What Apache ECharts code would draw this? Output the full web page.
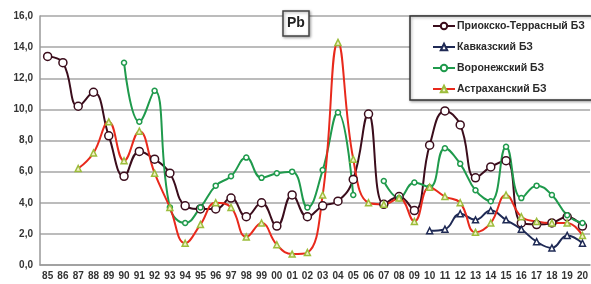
<!DOCTYPE html>
<html>
<head>
<meta charset="utf-8">
<script src="https://cdn.jsdelivr.net/npm/echarts@6/dist/echarts.min.js"></script>
<style>
  html, body { margin: 0; padding: 0; background: #fff; }
  #chart { width: 591px; height: 284px; }
</style>
</head>
<body>
<div id="chart"></div>
<script>
  // годы (подписи оси X)
  var years = ['85','86','87','88','89','90','91','92','93','94','95','96','97','98','99','00','01','02',
               '03','04','05','06','07','08','09','10','11','12','13','14','15','16','17','18','19','20'];
  var yTicks = [0, 2, 4, 6, 8, 10, 12, 14, 16];

  var prioksko = [13.4, 13.0, 10.2, 11.1, 8.3, 5.7, 7.3, 6.8, 5.9, 3.8, 3.6, 3.6, 4.3, 3.1, 4.0, 2.5, 4.5, 3.1,
                  3.8, 4.1, 5.5, 9.7, 3.9, 4.4, 3.5, 7.7, 9.9, 9.0, 5.6, 6.3, 6.7, 2.7, 2.6, 2.7, 3.1, 2.5];
  var kavkaz = [null, null, null, null, null, null, null, null, null, null, null, null, null, null, null, null, null, null,
                null, null, null, null, null, null, null, 2.2, 2.3, 3.3, 2.9, 3.5, 2.9, 2.3, 1.5, 1.1, 1.9, 1.4];
  var voronezh = [null, null, null, null, null, 13.0, 9.2, 11.2, 3.7, 2.7, 3.7, 5.1, 5.7, 6.9, 5.6, 5.9, 6.0, 3.7,
                  6.1, 9.8, 4.5, null, 5.4, 4.3, 5.3, 5.0, 7.5, 6.5, 4.8, 4.1, 7.6, 4.3, 5.1, 4.5, 3.2, 2.7];
  var astrakhan = [null, null, 6.2, 7.2, 9.2, 6.7, 8.6, 5.9, 3.7, 1.4, 2.6, 4.0, 3.7, 1.8, 2.7, 1.3, 0.7, 0.8,
                   4.5, 14.3, 6.8, 4.0, 3.9, 4.3, 2.8, 5.0, 4.4, 4.0, 2.1, 2.7, 4.5, 3.1, 2.8, 2.7, 2.7, 1.9];

  var chart = echarts.init(document.getElementById('chart'));

  function makeSeries(name, data, color, symbol, size, markerBorder, markerFill) {
    return {
      name: name,
      type: 'line',
      data: data,
      smooth: 0.45,
      connectNulls: false,
      symbol: symbol,
      symbolSize: size,
      showAllSymbol: true,
      lineStyle: { color: color, width: 2 },
      itemStyle: { color: markerFill, borderColor: markerBorder, borderWidth: 1.5 },
      emphasis: { disabled: true },
      animation: false
    };
  }

  chart.setOption({
    animation: false,
    title: {
      text: 'Pb',
      left: 283,
      top: 11,
      padding: [5, 4, 5, 4],
      borderColor: '#444',
      borderWidth: 1.5,
      backgroundColor: '#fff',
      shadowColor: 'rgba(0,0,0,0.35)',
      shadowBlur: 3,
      shadowOffsetX: 1,
      shadowOffsetY: 1,
      textStyle: { fontFamily: 'Liberation Sans', fontWeight: 'bold', fontSize: 14, lineHeight: 15, color: '#222' }
    },
    legend: {
      orient: 'vertical',
      left: 410,
      top: 16,
      padding: [4, 30, 5, 22],
      itemGap: 9,
      itemWidth: 22,
      itemHeight: 8,
      backgroundColor: '#fff',
      borderColor: '#333',
      borderWidth: 1.5,
      shadowColor: 'rgba(0,0,0,0.35)',
      shadowBlur: 3,
      shadowOffsetX: 1,
      shadowOffsetY: 1,
      textStyle: { fontFamily: 'Liberation Sans', fontWeight: 'bold', fontSize: 10.5, lineHeight: 12, color: '#2a2a2a', padding: [0, 0, 0, -3] },
      data: ['Приокско-Террасный БЗ', 'Кавказский БЗ', 'Воронежский БЗ', 'Астраханский БЗ']
    },
    grid: { left: 40, right: 0, top: 16, bottom: 19, containLabel: false },
    xAxis: {
      type: 'category',
      data: years,
      boundaryGap: true,
      axisLine: { lineStyle: { color: '#999', width: 1.5 } },
      axisTick: { interval: 0, length: 4, lineStyle: { color: '#999' } },
      axisLabel: { interval: 0, margin: 6, fontFamily: 'Liberation Sans', fontWeight: 'bold', fontSize: 10, color: '#333' }
    },
    yAxis: {
      type: 'value',
      min: yTicks[0],
      max: yTicks[yTicks.length - 1],
      interval: 2,
      axisLine: { show: true, lineStyle: { color: '#999', width: 1.5 } },
      axisTick: { show: false },
      axisLabel: {
        margin: 7,
        fontFamily: 'Liberation Sans', fontWeight: 'bold', fontSize: 10, color: '#333',
        formatter: function (v) { return v.toFixed(1).replace('.', ','); }
      },
      splitLine: { lineStyle: { color: '#a6a6a6', width: 1.5 } }
    },
    series: [
      makeSeries('Приокско-Террасный БЗ', prioksko, '#3b0d1c', 'circle', 8, '#3b0d1c', '#fff'),
      makeSeries('Кавказский БЗ', kavkaz, '#1f2a55', 'triangle', 6, '#1f2a55', '#fff'),
      makeSeries('Воронежский БЗ', voronezh, '#1f9a4c', 'circle', 5, '#1f9a4c', '#fff'),
      makeSeries('Астраханский БЗ', astrakhan, '#e8291c', 'triangle', 6, '#9cbd3c', '#f4f0c8')
    ]
  });
</script>
</body>
</html>
